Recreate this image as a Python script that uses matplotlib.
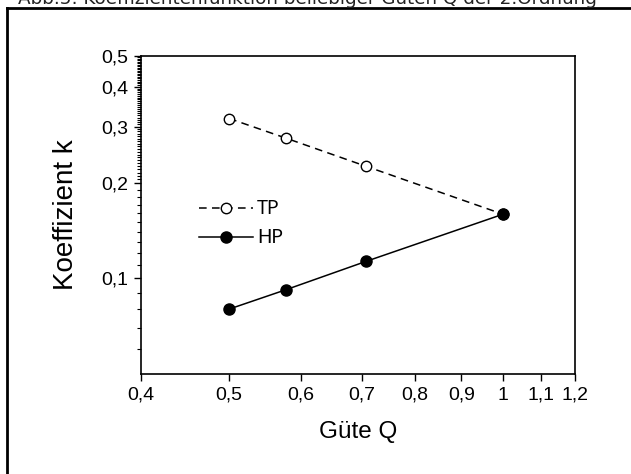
import numpy as np
from matplotlib import pyplot as plt
from matplotlib.lines import Line2D
from matplotlib.ticker import NullFormatter

# Werte
guete_q = [0.5, 0.577, 0.707, 1.0]
k_tp = [0.318, 0.276, 0.225, 0.159]
k_hp = [0.080, 0.092, 0.113, 0.159]

x_ticks = [0.4, 0.5, 0.6, 0.7, 0.8, 0.9, 1.0, 1.1, 1.2]
x_labels = ['0,4', '0,5', '0,6', '0,7', '0,8', '0,9', '1', '1,1', '1,2']
y_ticks = [0.1, 0.2, 0.3, 0.4, 0.5]
y_labels = ['0,1', '0,2', '0,3', '0,4', '0,5']
y_minor = ([0.06, 0.07, 0.08, 0.09]
           + [round(0.11 + 0.01 * i, 3) for i in range(9)]
           + [round(0.205 + 0.005 * i, 3) for i in range(59) if round(0.205 + 0.005 * i, 3) not in (0.3, 0.4)])

title = 'Abb.5: Koeffizientenfunktion beliebiger Güten Q der 2.Ordnung'

plt.rcParams['font.family'] = ['Liberation Sans', 'DejaVu Sans']
plt.rcParams['xtick.labelsize'] = 14
plt.rcParams['ytick.labelsize'] = 14

fig = plt.figure(figsize=(6.31, 4.74), dpi=100)
ax = fig.add_axes([141 / 631, 1 - 374 / 474, (575 - 141) / 631, (374 - 56) / 474])

ax.set_xscale('log')
ax.set_yscale('log')
ax.set_xlim(0.4, 1.2)
ax.set_ylim(0.05, 0.5)

ax.plot(guete_q, k_tp, color='black', lw=1.1, ls=(0, (5, 3.5)), marker='o', ms=7.5,
        mfc='white', mec='black', mew=1.0, label='TP')
ax.plot(guete_q, k_hp, color='black', lw=1.1, marker='o', ms=8,
        mfc='black', mec='black', label='HP')

ax.set_xticks(x_ticks, x_labels)
ax.xaxis.set_minor_locator(plt.NullLocator())
ax.set_yticks(y_ticks, y_labels)
ax.set_yticks(y_minor, minor=True)
ax.yaxis.set_minor_formatter(NullFormatter())

ax.tick_params(axis='both', which='major', direction='out', length=5, width=1, pad=4, labelsize=14)
ax.tick_params(axis='y', which='minor', direction='out', length=3, width=0.8)
for sp in ax.spines.values():
    sp.set_linewidth(1.2)

ax.set_xlabel('Güte Q', fontsize=17.5)
ax.xaxis.set_label_coords(0.5, -0.148)
ax.set_ylabel('Koeffizient k', fontsize=20)
ax.yaxis.set_label_coords(-0.142, 0.5)

leg = ax.legend(loc='upper left', bbox_to_anchor=(0.095, 0.60), frameon=False,
                handlelength=2.9, handletextpad=0.2, labelspacing=0.65,
                prop={'family': 'Lato', 'size': 13.5})

# Rahmen der Abbildung und Überschrift
fig.add_artist(Line2D([7 / 631, 1], [1 - 8 / 474, 1 - 8 / 474], color='black', lw=2))
fig.add_artist(Line2D([7 / 631, 7 / 631], [0, 1 - 8 / 474], color='black', lw=2))
fig.text(18 / 631, 1 - 4 / 474, title, fontsize=13.2, family='DejaVu Sans',
         ha='left', va='baseline', color='#222222')

fig.savefig('out.png', dpi=100)
